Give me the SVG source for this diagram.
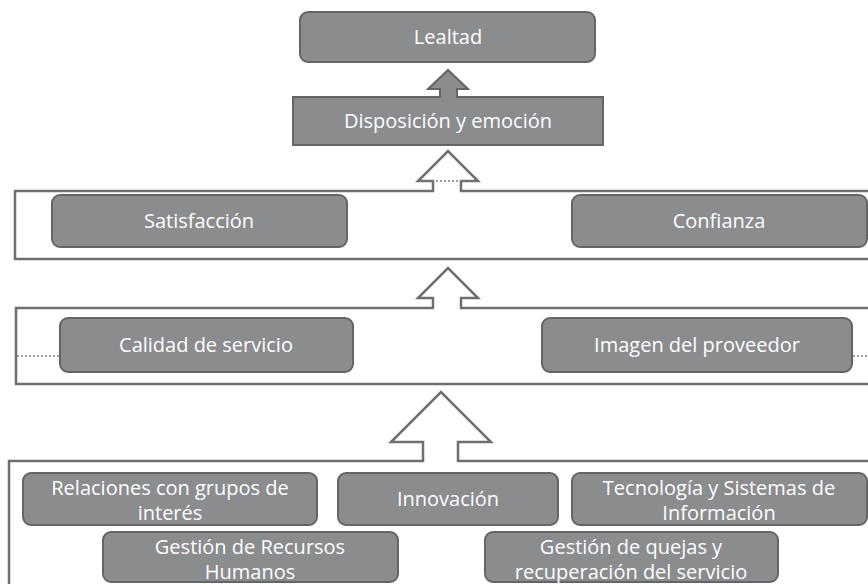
<svg xmlns="http://www.w3.org/2000/svg" width="868" height="584" viewBox="0 0 868 584">
<style>
.box{fill:#8b8c8e;stroke:#646567;stroke-width:2}
.cont{fill:#ffffff;stroke:#6e6f71;stroke-width:2.5}
.dot{stroke:#7a7b7d;stroke-width:1.6;stroke-dasharray:2 2;fill:none}
text{font-family:"Open Sans","Noto Sans","DejaVu Sans",sans-serif;font-size:20px;fill:#ffffff;text-anchor:middle}
</style>
<rect width="868" height="584" fill="#ffffff"/>
<g id="connectors">
<path class="cont" d="M15 191 H433 V181 H418 L448 151 L478 181 H461 V191 H872 V259 H15 Z"/>
<line class="dot" x1="420" y1="181" x2="477" y2="181"/>
<path class="cont" d="M16 308 H433 V298 H418 L448 268 L478 298 H461 V308 H872 V384 H16 Z"/>
<line class="dot" x1="17" y1="356" x2="60" y2="356"/>
<line class="dot" x1="853" y1="356" x2="868" y2="356"/>
<path class="cont" d="M9 461 H423 V442 H391 L441 392 L491 442 H458 V461 H872 V592 H9 Z"/>
</g>
<g id="lealtad">
<rect class="box" x="300" y="12" width="295" height="50" rx="8"/>
<text x="448" y="44">Lealtad</text>
</g>
<g id="disposicion">
<path class="box" d="M293 97 H440 V89 H428 L448 70 L468 89 H457 V97 H603 V145 H293 Z"/>
<text x="448" y="128">Disposición y emoción</text>
</g>
<g id="satisfaccion">
<rect class="box" x="52" y="195" width="295" height="52" rx="8"/>
<text x="199" y="228">Satisfacción</text>
</g>
<g id="confianza">
<rect class="box" x="572" y="195" width="295" height="52" rx="8"/>
<text x="719" y="228">Confianza</text>
</g>
<g id="calidad">
<rect class="box" x="60" y="318" width="293" height="54" rx="8"/>
<text x="206" y="352">Calidad de servicio</text>
</g>
<g id="imagen">
<rect class="box" x="542" y="318" width="310" height="54" rx="8"/>
<text x="697" y="352">Imagen del proveedor</text>
</g>
<g id="relaciones">
<rect class="box" x="23" y="473" width="294" height="52" rx="8"/>
<text x="170" y="495">Relaciones con grupos de</text>
<text x="170" y="520">interés</text>
</g>
<g id="innovacion">
<rect class="box" x="338" y="473" width="220" height="52" rx="8"/>
<text x="448" y="506">Innovación</text>
</g>
<g id="tecnologia">
<rect class="box" x="572" y="473" width="295" height="52" rx="8"/>
<text x="719" y="495">Tecnología y Sistemas de</text>
<text x="719" y="520">Información</text>
</g>
<g id="rrhh">
<rect class="box" x="103" y="532" width="295" height="50" rx="8"/>
<text x="250" y="554">Gestión de Recursos</text>
<text x="250" y="579">Humanos</text>
</g>
<g id="quejas">
<rect class="box" x="485" y="532" width="293" height="50" rx="8"/>
<text x="631" y="554">Gestión de quejas y</text>
<text x="631" y="579">recuperación del servicio</text>
</g>
</svg>
